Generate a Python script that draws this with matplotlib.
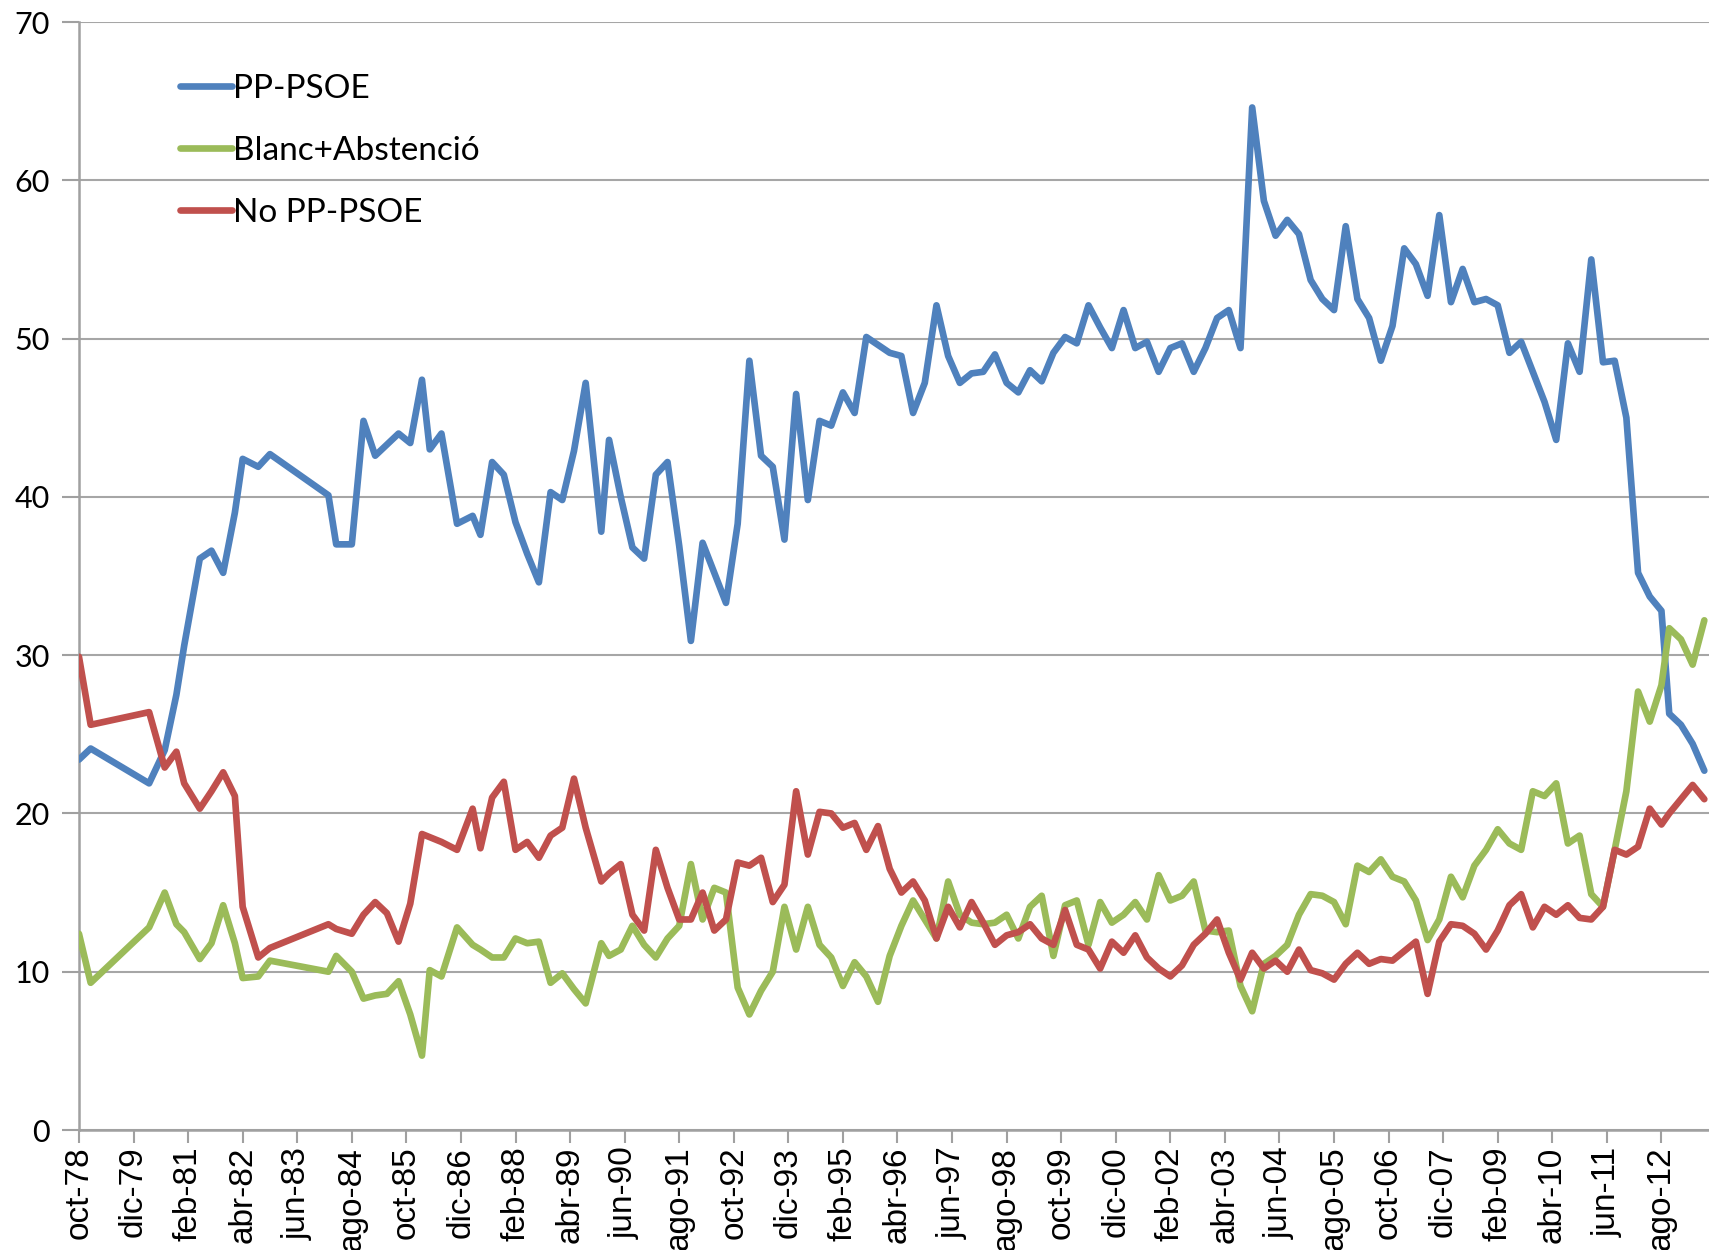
import matplotlib
matplotlib.use("Agg")
import matplotlib.pyplot as plt

# survey month, counted in months after October 1978
survey_month = [
    0, 3, 18, 22, 25, 27, 31, 34, 37, 40, 42, 46, 49, 64, 66, 70,
    73, 76, 79, 82, 85, 88, 90, 93, 97, 101, 103, 106, 109, 112, 115, 118, 121, 124, 127, 130, 134, 136, 139, 142,
    145, 148, 151, 154, 157, 160, 163, 166, 169, 172, 175, 178, 181, 184, 187, 190, 193, 196, 199, 202, 205, 208, 211, 214,
    217, 220, 223, 226, 229, 232, 235, 238, 241, 244, 247, 250, 253, 256, 259, 262, 265, 268, 271, 274, 277, 280, 283, 286,
    289, 292, 295, 298, 301, 304, 307, 310, 313, 316, 319, 322, 325, 328, 331, 334, 337, 340, 343, 346, 349, 352,
    355, 358, 361, 364, 367, 370, 373, 376, 379, 382, 385, 388, 391, 394, 397, 400, 403, 406, 408, 411, 414, 417,
]

pp_psoe = [
    23.4, 24.1, 21.9, 24.0, 27.5, 30.6, 36.1, 36.6, 35.2, 39.0, 42.4, 41.9, 42.7, 40.1, 37.0, 37.0,
    44.8, 42.6, 43.3, 44.0, 43.4, 47.4, 43.0, 44.0, 38.3, 38.8, 37.6, 42.2, 41.4, 38.4, 36.4, 34.6, 40.3, 39.8, 42.9, 47.2, 37.8, 43.6, 40.0, 36.8,
    36.1, 41.4, 42.2, 36.9, 30.9, 37.1, 35.2, 33.3, 38.3, 48.6, 42.6, 41.9, 37.3, 46.5, 39.8, 44.8, 44.5, 46.6, 45.3, 50.1, 49.6, 49.1, 48.9, 45.3,
    47.2, 52.1, 48.9, 47.2, 47.8, 47.9, 49.0, 47.2, 46.6, 48.0, 47.3, 49.1, 50.1, 49.7, 52.1, 50.7, 49.4, 51.8, 49.4, 49.8, 47.9, 49.4, 49.7, 47.9,
    49.4, 51.3, 51.8, 49.4, 64.6, 58.7, 56.5, 57.5, 56.6, 53.7, 52.5, 51.8, 57.1, 52.5, 51.3, 48.6, 50.8, 55.7, 54.7, 52.7, 57.8, 52.3,
    54.4, 52.3, 52.5, 52.1, 49.1, 49.8, 47.9, 46.0, 43.6, 49.7, 47.9, 55.0, 48.5, 48.6, 45.0, 35.2, 33.7, 32.8, 26.3, 25.6, 24.4, 22.7,
]

blanc_abstencio = [
    12.4, 9.3, 12.8, 15.0, 13.0, 12.5, 10.8, 11.8, 14.2, 11.8, 9.6, 9.7, 10.7, 10.0, 11.0, 10.0,
    8.3, 8.5, 8.6, 9.4, 7.3, 4.7, 10.1, 9.7, 12.8, 11.7, 11.4, 10.9, 10.9, 12.1, 11.8, 11.9, 9.3, 9.9, 8.9, 8.0, 11.8, 11.0, 11.4, 12.9,
    11.7, 10.9, 12.1, 12.9, 16.8, 13.3, 15.3, 15.0, 9.0, 7.3, 8.8, 10.0, 14.1, 11.4, 14.1, 11.7, 10.9, 9.1, 10.6, 9.7, 8.1, 11.0, 12.9, 14.5,
    13.3, 12.1, 15.7, 13.6, 13.1, 13.0, 13.1, 13.6, 12.1, 14.1, 14.8, 11.0, 14.2, 14.5, 11.7, 14.4, 13.1, 13.6, 14.4, 13.3, 16.1, 14.5, 14.8, 15.7,
    12.6, 12.5, 12.6, 9.1, 7.5, 10.5, 11.0, 11.7, 13.6, 14.9, 14.8, 14.4, 13.0, 16.7, 16.3, 17.1, 16.0, 15.7, 14.5, 12.0, 13.3, 16.0,
    14.7, 16.7, 17.7, 19.0, 18.1, 17.7, 21.4, 21.1, 21.9, 18.1, 18.6, 14.9, 14.1, 17.7, 21.4, 27.7, 25.8, 28.1, 31.7, 31.0, 29.4, 32.2,
]

no_pp_psoe = [
    29.9, 25.6, 26.4, 22.9, 23.9, 21.9, 20.3, 21.4, 22.6, 21.1, 14.1, 10.9, 11.5, 13.0, 12.7, 12.4,
    13.6, 14.4, 13.7, 11.9, 14.3, 18.7, 18.5, 18.2, 17.7, 20.3, 17.8, 21.0, 22.0, 17.7, 18.2, 17.2, 18.6, 19.1, 22.2, 19.1, 15.7, 16.2, 16.8, 13.6,
    12.6, 17.7, 15.3, 13.3, 13.3, 15.0, 12.6, 13.3, 16.9, 16.7, 17.2, 14.4, 15.5, 21.4, 17.4, 20.1, 20.0, 19.1, 19.4, 17.7, 19.2, 16.5, 15.0, 15.7,
    14.5, 12.1, 14.1, 12.8, 14.4, 13.1, 11.7, 12.3, 12.5, 13.0, 12.1, 11.7, 13.9, 11.7, 11.4, 10.2, 11.9, 11.2, 12.3, 10.9, 10.2, 9.7, 10.4, 11.7,
    12.4, 13.3, 11.2, 9.5, 11.2, 10.2, 10.7, 10.0, 11.4, 10.1, 9.9, 9.5, 10.5, 11.2, 10.5, 10.8, 10.7, 11.3, 11.9, 8.6, 11.9, 13.0,
    12.9, 12.4, 11.4, 12.6, 14.2, 14.9, 12.8, 14.1, 13.6, 14.2, 13.4, 13.3, 14.1, 17.7, 17.4, 17.9, 20.3, 19.3, 20.0, 20.9, 21.8, 20.9,
]

tick_labels = ["oct-78", "dic-79", "feb-81", "abr-82", "jun-83", "ago-84", "oct-85", "dic-86",
               "feb-88", "abr-89", "jun-90", "ago-91", "oct-92", "dic-93", "feb-95", "abr-96",
               "jun-97", "ago-98", "oct-99", "dic-00", "feb-02", "abr-03", "jun-04", "ago-05",
               "oct-06", "dic-07", "feb-09", "abr-10", "jun-11", "ago-12"]
tick_months = list(range(0, 14 * len(tick_labels), 14))

series_names = ["PP-PSOE", "Blanc+Abstenció", "No PP-PSOE"]
colors = ["#4F81BD", "#9BBB59", "#C0504D"]

fig = plt.figure(figsize=(17.09, 12.5), dpi=100)
ax = fig.add_axes([0.0462, 0.096, 0.9538, 0.8864])

for vals, name, c in zip([pp_psoe, blanc_abstencio, no_pp_psoe], series_names, colors):
    ax.plot(survey_month, vals, color=c, lw=4.8, label=name, solid_joinstyle="round",
            solid_capstyle="round", zorder=3)

ax.set_xlim(0, 418.2)
ax.set_ylim(0, 70)
ax.set_yticks(range(0, 71, 10))
ax.yaxis.grid(True, color="#a6a6a6", lw=1.5, zorder=0)
ax.set_axisbelow(True)

for s in ["top", "right"]:
    ax.spines[s].set_visible(False)
for s in ["left", "bottom"]:
    ax.spines[s].set_color("#a0a0a0")
    ax.spines[s].set_linewidth(1.8)

ax.set_xticks(tick_months)
ax.set_xticklabels(tick_labels, rotation=90, va="top", ha="center",
                   family=["Liberation Sans Narrow", "Liberation Sans"], fontsize=24)
ax.tick_params(axis="x", length=9, width=1.5, color="#a0a0a0", pad=3)
ax.tick_params(axis="y", length=12, width=1.5, color="#a0a0a0", pad=9, labelsize=22)
for t in ax.get_yticklabels():
    t.set_family(["Lato", "DejaVu Sans"])

leg = ax.legend(loc="upper left", bbox_to_anchor=(0.062, 0.953), frameon=False,
                prop={"family": ["Lato", "DejaVu Sans"], "size": 24},
                handlelength=1.55, handletextpad=0.05, labelspacing=0.96,
                borderpad=0, borderaxespad=0)
for h in leg.get_lines():
    h.set_linewidth(4.8)

fig.savefig("out.png", dpi=100)
